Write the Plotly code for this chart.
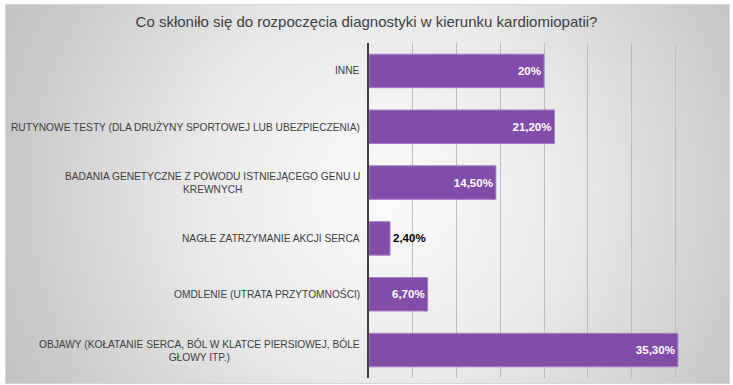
import base64
import plotly.graph_objects as go

categories = [
    "INNE",
    "RUTYNOWE TESTY (DLA DRUŻYNY SPORTOWEJ LUB UBEZPIECZENIA)",
    "BADANIA GENETYCZNE Z POWODU ISTNIEJĄCEGO GENU U<br>KREWNYCH",
    "NAGŁE ZATRZYMANIE AKCJI SERCA",
    "OMDLENIE (UTRATA PRZYTOMNOŚCI)",
    "OBJAWY (KOŁATANIE SERCA, BÓL W KLATCE PIERSIOWEJ, BÓLE<br>GŁOWY ITP.)",
]
values = [20, 21.2, 14.5, 2.4, 6.7, 35.3]
value_labels = ["20%", "21,20%", "14,50%", "2,40%", "6,70%", "35,30%"]
title_text = "Co skłoniło się do rozpoczęcia diagnostyki w kierunku kardiomiopatii?"

W, H = 733, 385
ML, MR, MT, MB = 369, 14, 43, 7
PW, PH = W - ML - MR, H - MT - MB

FONT = "Liberation Sans, Arial, sans-serif"

svg = f"""<svg xmlns='http://www.w3.org/2000/svg' width='{W}' height='{H}' viewBox='0 0 {W} {H}' preserveAspectRatio='none'>
<defs><radialGradient id='g' gradientUnits='userSpaceOnUse' cx='385' cy='195' r='420'>
<stop offset='0' stop-color='#fbfbfb'/><stop offset='0.45' stop-color='#e9e9e9'/><stop offset='0.9' stop-color='#c8c8c8'/><stop offset='1' stop-color='#c3c3c3'/>
</radialGradient></defs>
<rect x='0' y='0' width='{W}' height='{H}' fill='#ffffff'/>
<rect x='5.5' y='4.5' width='724' height='379' fill='url(#g)' stroke='#d6d6d6' stroke-width='1'/>
</svg>"""
svg_uri = "data:image/svg+xml;base64," + base64.b64encode(svg.encode("utf-8")).decode("ascii")

text_colors = ["#ffffff" if v > 5 else "#000000" for v in values]
positions = ["inside" if v > 5 else "outside" for v in values]

fig = go.Figure(
    go.Bar(
        x=values,
        y=categories,
        orientation="h",
        marker=dict(color="#814da8", line=dict(color="#a67fc6", width=1)),
        width=0.6,
        text=value_labels,
        textposition=positions,
        insidetextanchor="end",
        textfont=dict(family=FONT, size=11.5, color=text_colors),
        outsidetextfont=dict(family=FONT, size=11.5, color="#000000"),
        texttemplate="<b>%{text}</b>",
        cliponaxis=False,
        hoverinfo="skip",
    )
)

for cat in categories:
    fig.add_annotation(
        x=0, xref="paper", xshift=-7, y=cat, yref="y",
        text=cat, showarrow=False, xanchor="right", yanchor="middle", align="center",
        font=dict(family=FONT, size=10.2, color="#404040"),
    )

fig.update_layout(
    width=W, height=H,
    margin=dict(l=ML, r=MR, t=MT, b=MB),
    paper_bgcolor="rgba(0,0,0,0)",
    plot_bgcolor="rgba(0,0,0,0)",
    showlegend=False,
    title=dict(text=title_text, x=0.5, xref="container", xanchor="center", y=1 - 22 / H, yanchor="middle",
               font=dict(family=FONT, size=15, color="#404040")),
    xaxis=dict(range=[0, 40], dtick=5, showticklabels=False, showgrid=True, gridcolor="#bdbdbd",
               gridwidth=1, zeroline=False, fixedrange=True),
    yaxis=dict(autorange="reversed", showticklabels=False, showgrid=False, showline=True,
               linecolor="#404040", linewidth=1.5, ticks="", fixedrange=True),
    bargap=0.4,
    images=[dict(source=svg_uri, xref="paper", yref="paper",
                 x=-ML / PW, y=1 + MT / PH, sizex=W / PW, sizey=H / PH,
                 xanchor="left", yanchor="top", sizing="stretch", layer="below")],
)

fig.write_html("out.html", config={"displayModeBar": False},
               post_script="document.body.style.margin='0';document.body.style.overflow='hidden';")
